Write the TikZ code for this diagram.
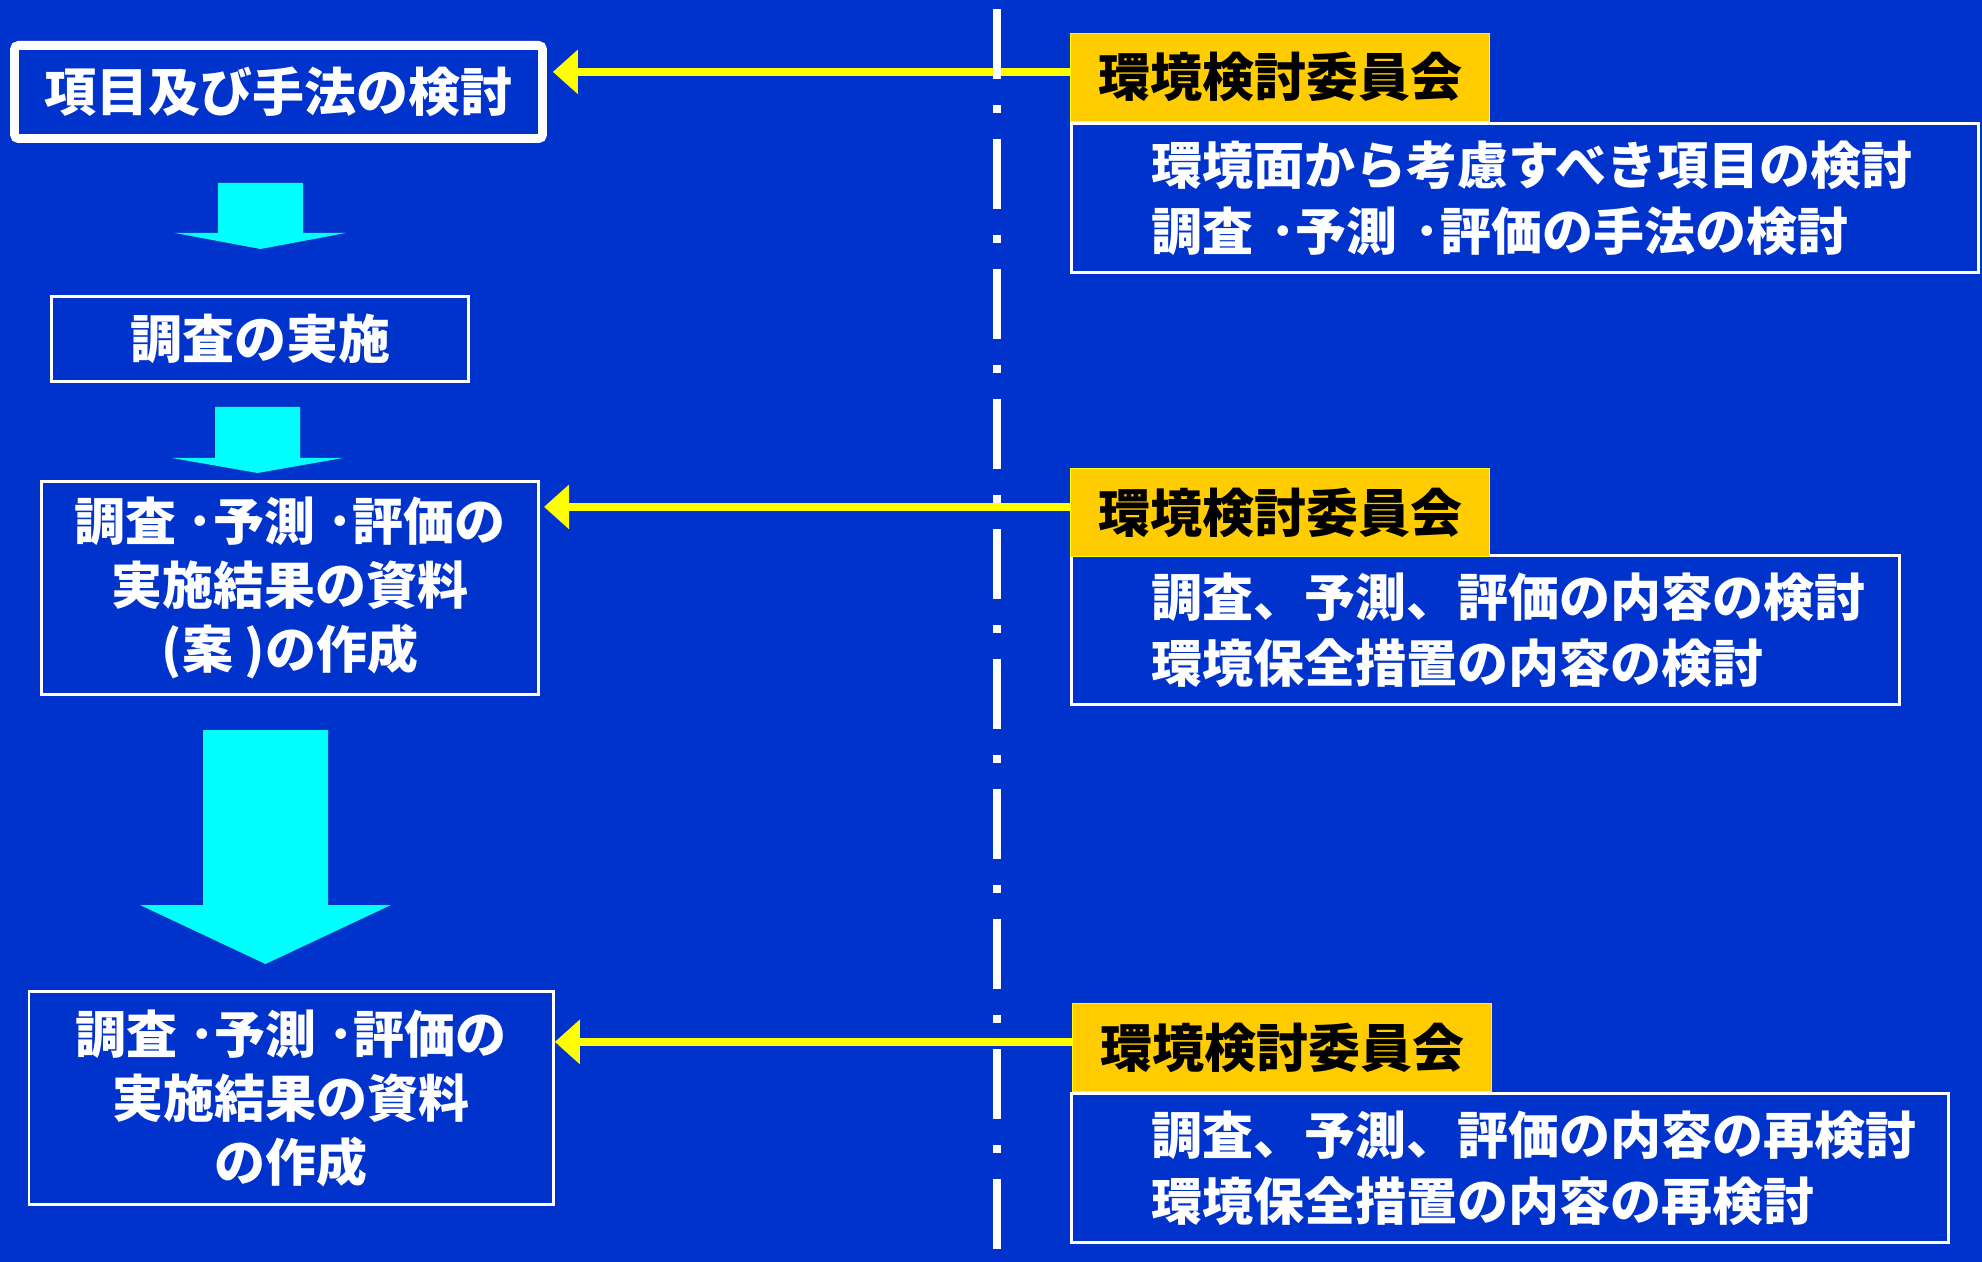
\documentclass[tikz,border=0pt]{standalone}
\usepackage{fontspec}
\setmainfont{Noto Sans CJK JP}
\usepackage{tikz}
\usetikzlibrary{positioning,arrows.meta}
\usepackage{xcolor}
\definecolor{bgblue}{RGB}{0,51,204}
\definecolor{flowcyan}{RGB}{0,255,255}
\definecolor{cmtgold}{RGB}{255,204,0}
\definecolor{linkyellow}{RGB}{255,255,0}

% cyan block arrow: x, y top, y head, y tip, shaft half, head half
\newcommand{\downblock}[6]{%
  \fill[flowcyan] (#1-#5,#2) -- (#1+#5,#2) -- (#1+#5,#3) -- (#1+#6,#3)
    -- (#1,#4) -- (#1-#6,#3) -- (#1-#5,#3) -- cycle;}

\begin{document}
\begin{tikzpicture}[x=0.5pt, y=-0.5pt,
    every node/.style={font=\fontsize{25.5pt}{32pt}\selectfont\bfseries, text=white},
    stepbox/.style={draw=white, line width=1.3pt, fill=bgblue, align=center, inner sep=0pt},
    cmt/.style={fill=cmtgold, draw=linkyellow, line width=0.6pt, text=black, anchor=south west,
        minimum width=209.5pt, minimum height=44pt, inner sep=0pt, font=\fontsize{26pt}{32pt}\selectfont\bfseries},
    task/.style={draw=white, line width=1.3pt, fill=bgblue, anchor=north west, inner sep=0pt,
        text width=#1, minimum height=74.5pt, align=left,
        font=\fontsize{25.5pt}{33pt}\selectfont\bfseries, execute at begin node={\leftskip=40pt}},
    link/.style={draw=linkyellow, line width=4pt, -{Triangle[length=12.5pt, width=21.5pt]}}]
        \useasboundingbox (0,0) rectangle (1982,1262);
        \fill[bgblue] (0,0) rectangle (1982,1262);

        % committee side
        \node[task=453.7pt] (task1) at (1070,122) {環境面から考慮すべき項目の検討\\調査 ･予測 ･評価の手法の検討};
        \node[task=414.2pt] (task2) at (1070,554) {調査、予測、評価の内容の検討\\環境保全措置の内容の検討};
        \node[task=438.7pt] (task3) at (1070,1092) {調査、予測、評価の内容の再検討\\環境保全措置の内容の再検討};
        \node[cmt] (cmt1) at (task1.north west) {環境検討委員会};
        \node[cmt, yshift=-1.5pt] (cmt2) at (task2.north west) {環境検討委員会};
        \node[cmt, xshift=1pt] (cmt3) at (task3.north west) {環境検討委員会};

        % work flow
        \node[stepbox, line width=4.4pt, rounded corners=2pt, minimum width=264pt, minimum height=46.6pt, font=\fontsize{26pt}{32pt}\selectfont\bfseries] (items) at (278.5,92) {項目及び手法の検討};
        \node[stepbox, minimum width=208.7pt, minimum height=42.7pt, font=\fontsize{26pt}{32pt}\selectfont\bfseries] (survey) at (260,339) {調査の実施};
        \node[stepbox, minimum width=248.7pt, minimum height=106.7pt] (draft) at (290,588) {調査 ･予測 ･評価の\\実施結果の資料\\(案 )の作成};
        \node[stepbox, minimum width=262.2pt, minimum height=106.7pt] (final) at (291.3,1098) {調査 ･予測 ･評価の\\実施結果の資料\\の作成};

        \downblock{260.5}{183}{233}{249}{42.5}{85.5}
        \downblock{257.5}{407}{458}{473}{42.5}{85.5}
        \downblock{265.5}{730}{905}{964}{62.5}{125.5}

        \draw[link] ([yshift=2.75pt]cmt1.west) -- ([xshift=3pt,yshift=2.75pt]cmt1.west -| items.east);
        \draw[link] ([yshift=2.75pt]cmt2.west) -- ([xshift=2pt,yshift=2.75pt]cmt2.west -| draft.east);
        \draw[link] ([yshift=2.75pt]cmt3.west) -- ([yshift=2.75pt]cmt3.west -| final.east);

        \draw[white, line width=4pt, dash pattern=on 35pt off 13pt on 4pt off 13pt, dash phase=60.5pt] (997,0) -- (997,1262);
    \end{tikzpicture}
\end{document}
